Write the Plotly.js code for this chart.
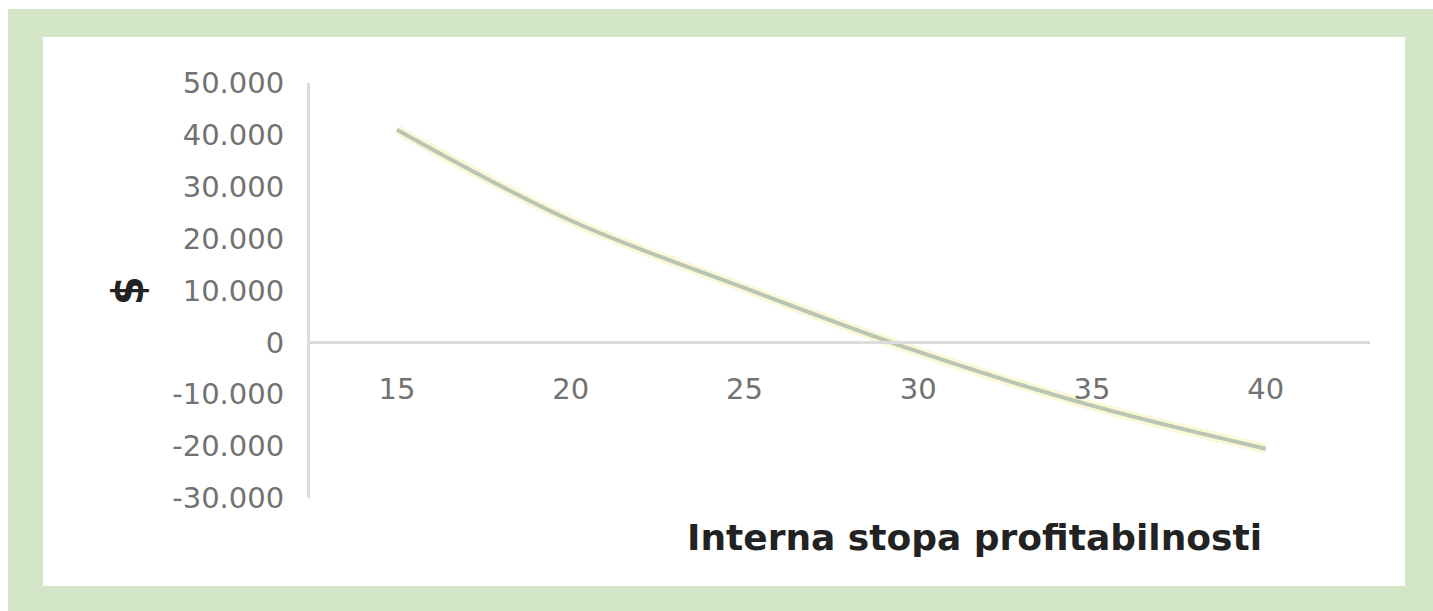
<!DOCTYPE html>
<html>
<head>
<meta charset="utf-8">
<script src="https://cdn.plot.ly/plotly-3.0.1.min.js"></script>
<style>
  html, body { margin:0; padding:0; background:#ffffff; width:1433px; height:611px; overflow:hidden; }
  #frame { position:absolute; left:8px; top:9px; width:1425px; height:602px; background:rgb(211,230,200); }
  #chart { position:absolute; left:43px; top:37px; width:1362px; height:549px; background:#ffffff; }
</style>
</head>
<body>
<div id="frame"></div>
<div id="chart"></div>
<script>
// Data
const rates = [15, 20, 25, 30, 35, 40];
const npv = [41000, 23500, 10500, -1800, -12200, -20500];
const yTickVals = [50000, 40000, 30000, 20000, 10000, 0, -10000, -20000, -30000];
const yTickText = ['50.000', '40.000', '30.000', '20.000', '10.000', '0', '-10.000', '-20.000', '-30.000'];
const xTickVals = [15, 20, 25, 30, 35, 40];
const xTickText = ['15', '20', '25', '30', '35', '40'];
const xTitle = 'Interna stopa profitabilnosti';
const yTitle = '$';

const tickFont = {family: 'DejaVu Sans, sans-serif', size: 29, color: '#727272'};

const traces = [
  {x: rates, y: npv, type: 'scatter', mode: 'lines', line: {shape: 'spline', color: 'rgba(245,245,190,0.6)', width: 10}, hoverinfo: 'skip', showlegend: false},
  {x: rates, y: npv, type: 'scatter', mode: 'lines', line: {shape: 'spline', color: 'rgb(185,198,180)', width: 4}, showlegend: false}
];

const layout = {
  width: 1362, height: 549,
  margin: {l: 267, r: 35, t: 46, b: 88},
  paper_bgcolor: '#ffffff', plot_bgcolor: '#ffffff',
  showlegend: false,
  xaxis: {
    range: [12.5, 43],
    anchor: 'free', position: 0.375,
    showgrid: false, zeroline: false,
    showline: true, linecolor: '#dcdcdc', linewidth: 3,
    tickmode: 'array', tickvals: xTickVals, ticktext: xTickText,
    ticks: '', ticklabelstandoff: 20,
    tickfont: tickFont
  },
  yaxis: {
    range: [-30000, 50000],
    showgrid: false, zeroline: false,
    showline: true, linecolor: '#dcdcdc', linewidth: 3,
    tickmode: 'array', tickvals: yTickVals, ticktext: yTickText,
    ticks: '', ticklabelstandoff: 17,
    tickfont: tickFont,
    title: {text: yTitle, standoff: 16, font: {family: 'DejaVu Sans, sans-serif', size: 42, color: '#222222', weight: 'bold'}}
  },
  annotations: [{
    text: xTitle, xref: 'paper', yref: 'paper', x: 0.627, y: -0.095,
    xanchor: 'center', yanchor: 'middle', showarrow: false,
    font: {family: 'DejaVu Sans, sans-serif', size: 36, color: '#222222', weight: 'bold'}
  }]
};

Plotly.newPlot('chart', traces, layout, {displayModeBar: false, staticPlot: true});
</script>
</body>
</html>
